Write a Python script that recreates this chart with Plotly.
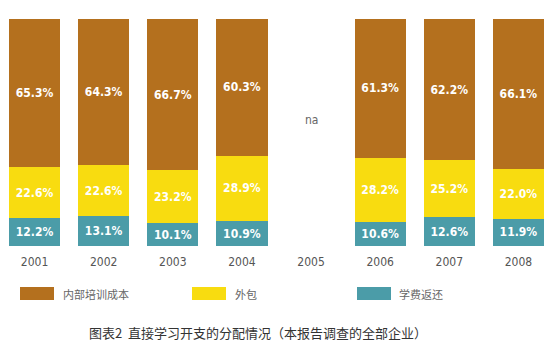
import plotly.graph_objects as go

years = ['2001', '2002', '2003', '2004', '2005', '2006', '2007', '2008']
internal = [65.3, 64.3, 66.7, 60.3, None, 61.3, 62.2, 66.1]
outsourcing = [22.6, 22.6, 23.2, 28.9, None, 28.2, 25.2, 22.0]
tuition = [12.2, 13.1, 10.1, 10.9, None, 10.6, 12.6, 11.9]

series_names = ['内部培训成本', '外包', '学费返还']
colors = ['#B4701E', '#F8DC10', '#4B9CA8']
na_year = '2005'
na_label = 'na'
title_text = '图表2  直接学习开支的分配情况（本报告调查的全部企业）'

W, H = 560, 354
mt, mb, ml, mr = 19, 108, 0, 7
ph = H - mt - mb
pw = W - ml - mr

COND = 'DejaVu Sans Condensed, Liberation Sans Narrow, Arial Narrow, sans-serif'

fig = go.Figure()
for name, vals, col in [(series_names[2], tuition, colors[2]),
                        (series_names[1], outsourcing, colors[1]),
                        (series_names[0], internal, colors[0])]:
    fig.add_trace(go.Bar(
        x=years, y=vals, name=name, marker_color=col, marker_line_width=0,
        texttemplate='<b>%{y:.1f}%</b>', textposition='inside', insidetextanchor='middle',
        textfont=dict(family=COND, size=12, color='white'),
        showlegend=False, hoverinfo='skip'))

fig.add_annotation(x=years.index(na_year), y=55.5, text=na_label, showarrow=False,
                   font=dict(family=COND, size=12, color='#666666'))

def px2paper_x(px):
    return (px - ml) / pw

def px2paper_y(py):
    return (H - mb - py) / ph

legend_items = [(20, 61, series_names[0], colors[0]),
                (192, 233, series_names[1], colors[1]),
                (357, 397, series_names[2], colors[2])]
for sx, tx, name, col in legend_items:
    fig.add_shape(type='rect', xref='paper', yref='paper',
                  x0=px2paper_x(sx), x1=px2paper_x(sx + 34),
                  y0=px2paper_y(300), y1=px2paper_y(287),
                  fillcolor=col, line_width=0)
    fig.add_annotation(xref='paper', yref='paper', x=px2paper_x(tx), y=px2paper_y(294),
                       xanchor='left', yanchor='middle', text=name, showarrow=False,
                       font=dict(family='Noto Sans CJK SC', size=11, color='#666666'))

fig.add_annotation(xref='paper', yref='paper', x=px2paper_x(258), y=px2paper_y(332),
                   xanchor='center', yanchor='middle', text=title_text, showarrow=False,
                   font=dict(family='Noto Sans CJK SC', size=13, color='#333333'))

fig.update_layout(
    width=W, height=H, margin=dict(t=mt, b=mb, l=ml, r=mr),
    barmode='stack', bargap=0.26,
    plot_bgcolor='white', paper_bgcolor='white',
    uniformtext=dict(mode='show', minsize=12),
    xaxis=dict(type='category', categoryorder='array', categoryarray=years,
               range=[-0.5, len(years) - 0.5],
               showgrid=False, showline=False, zeroline=False,
               ticks='outside', ticklen=5, tickcolor='rgba(0,0,0,0)',
               tickfont=dict(family=COND, size=12, color='#555555')),
    yaxis=dict(range=[0, 100], visible=False, showgrid=False),
)

fig.write_html('out.html')
